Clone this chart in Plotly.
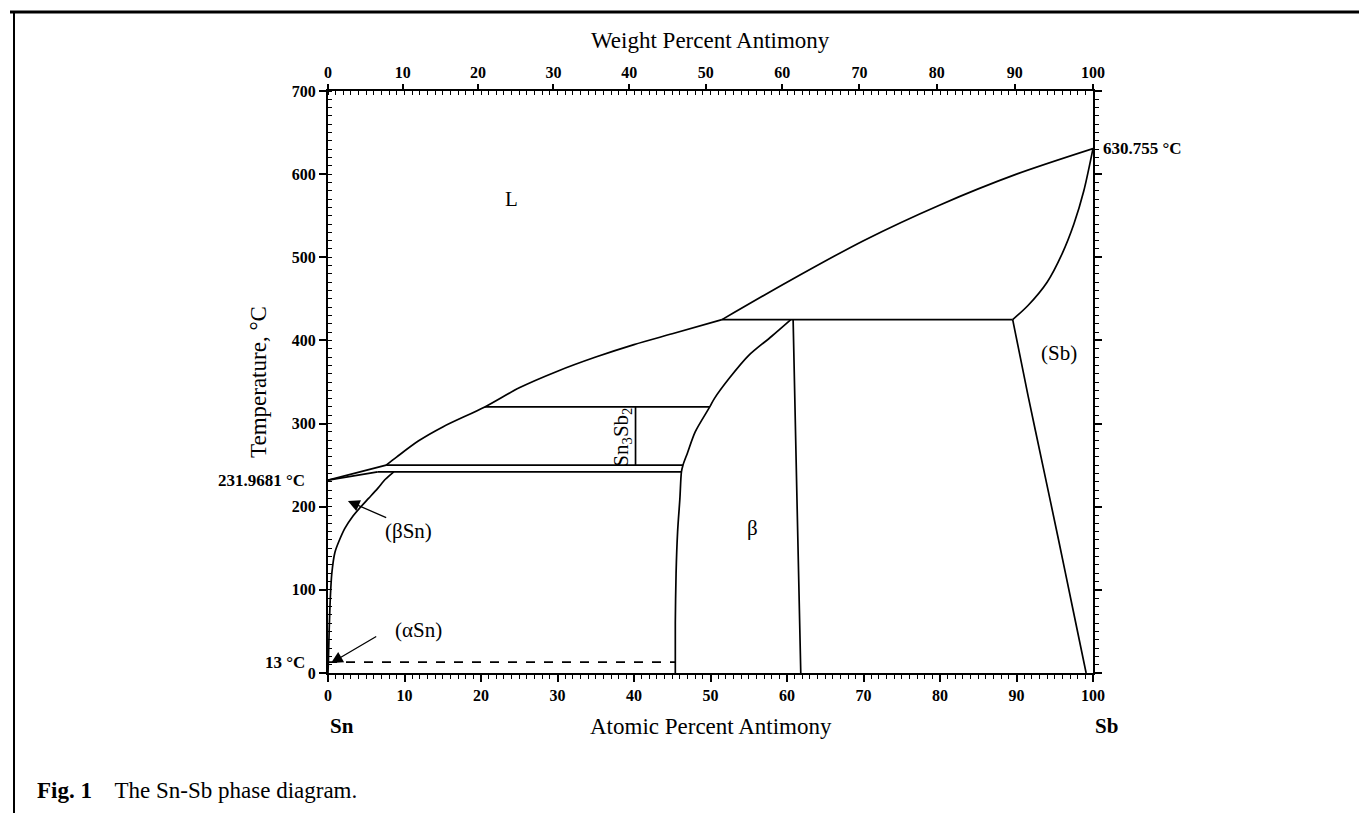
import plotly.graph_objects as go

# ---------------- data (atomic % Sb, temperature degC) ----------------
liq_sn_x = [0, 7.6]
liq_sn_y = [231.9681, 250]

liq_low_x = [7.6, 9, 11.8, 15, 20.5, 25, 30, 35, 40, 45, 51.5]
liq_low_y = [250, 260, 279, 296, 320, 343, 363, 380, 395, 408, 425]

liq_high_x = [51.5, 60, 70, 80, 90, 100]
liq_high_y = [425, 470, 520, 563, 600, 630.755]

sn_solidus_x = [0, 6.5]
sn_solidus_y = [231.9681, 242]

sn_solvus_x = [8.6, 7.5, 6.5, 5.3, 4.3, 3.2, 2.2, 1.5, 0.9, 0.5, 0.3, 0.15, 0.05, 0]
sn_solvus_y = [242, 233, 222, 210, 200, 188, 174, 160, 145, 120, 90, 50, 13, 0]

beta_left_x = [45.4, 45.4, 45.5, 45.7, 46.0, 46.2, 46.4, 47.0, 48.0, 49.9, 50.5, 52.5, 55, 58, 60.5]
beta_left_y = [0, 60, 120, 170, 210, 242, 250, 265, 290, 320, 330, 355, 382, 405, 425]

beta_right_x = [60.8, 61.3, 61.8]
beta_right_y = [425, 210, 0]

sb_solidus_x = [89.5, 91.5, 94, 96, 97.5, 98.8, 100]
sb_solidus_y = [425, 442, 470, 505, 540, 580, 630.755]

sb_solvus_x = [89.5, 91.5, 93.5, 95.5, 97.3, 99.1]
sb_solvus_y = [425, 334, 247, 160, 80, 0]

iso_425_x = [51.5, 89.5]
iso_320_x = [20.5, 49.9]
iso_250_x = [7.6, 46.4]
iso_242_x = [6.5, 46.2]
sn3sb2_x = [40.2, 40.2]
sn3sb2_y = [250, 320]
alpha_x = [0, 45.4]
alpha_y = [13, 13]

atomic_ticks = list(range(0, 101, 10))
weight_ticks = list(range(0, 101, 10))
temp_ticks = list(range(0, 701, 100))

M_SN, M_SB = 118.71, 121.76


def wt_to_at(w):
    a = w / M_SB
    b = (100 - w) / M_SN
    return 100 * a / (a + b)


weight_pos = [wt_to_at(w) for w in weight_ticks]

FONT = "Liberation Serif"
LW = 1.7

fig = go.Figure()


def line(x, y, dash="solid", smooth=False):
    ln = dict(color="black", width=LW, dash=dash)
    if smooth:
        ln.update(shape="spline", smoothing=0.8)
    fig.add_trace(go.Scatter(x=x, y=y, mode="lines", line=ln, hoverinfo="skip", showlegend=False))


line(liq_sn_x, liq_sn_y)
line(liq_low_x, liq_low_y, smooth=True)
line(liq_high_x, liq_high_y, smooth=True)
line(sn_solidus_x, sn_solidus_y)
line(sn_solvus_x, sn_solvus_y, smooth=True)
line(beta_left_x, beta_left_y, smooth=True)
line(beta_right_x, beta_right_y, smooth=True)
line(sb_solidus_x, sb_solidus_y, smooth=True)
line(sb_solvus_x, sb_solvus_y, smooth=True)
line(iso_425_x, [425, 425])
line(iso_320_x, [320, 320])
line(iso_250_x, [250, 250])
line(iso_242_x, [242, 242])
line(sn3sb2_x, sn3sb2_y)
line(alpha_x, alpha_y, dash="dash")

# dummy trace on the top/right axes
fig.add_trace(go.Scatter(x=[0, 100], y=[0, 700], xaxis="x2", yaxis="y2", mode="markers",
                         marker=dict(opacity=0), hoverinfo="skip", showlegend=False))

tickfont = dict(family=FONT, size=16, color="black")

fig.update_layout(
    width=1367, height=813,
    paper_bgcolor="white", plot_bgcolor="white",
    margin=dict(l=320, r=282, t=83, b=148),
    showlegend=False,
    xaxis=dict(range=[0, 100], tickvals=atomic_ticks, ticktext=[f"<b>{v}</b>" for v in atomic_ticks],
               showgrid=False, zeroline=False, showline=True, linecolor="black", linewidth=2,
               ticks="outside", ticklen=7, tickwidth=1.5, tickcolor="black", tickfont=tickfont,
               minor=dict(dtick=1, ticks="outside", ticklen=4, tickcolor="black", tickwidth=1),
               fixedrange=True),
    xaxis2=dict(range=[0, 100], overlaying="x", side="top", tickvals=weight_pos,
                ticktext=[f"<b>{v}</b>" for v in weight_ticks],
                showgrid=False, zeroline=False, showline=True, linecolor="black", linewidth=2,
                ticks="outside", ticklen=5, tickwidth=1.5, tickcolor="black", tickfont=tickfont,
                minor=dict(dtick=1, ticks="inside", ticklen=4, tickcolor="black", tickwidth=1)),
    yaxis=dict(range=[0, 700], tickvals=temp_ticks, ticktext=[f"<b>{v}</b>" for v in temp_ticks],
               showgrid=False, zeroline=False, showline=True, linecolor="black", linewidth=2,
               ticks="outside", ticklen=7, tickwidth=1.5, tickcolor="black", tickfont=tickfont,
               minor=dict(dtick=10, ticks="inside", ticklen=4, tickcolor="black", tickwidth=1)),
    yaxis2=dict(range=[0, 700], overlaying="y", side="right", tickvals=temp_ticks, showticklabels=False,
                showgrid=False, zeroline=False, showline=True, linecolor="black", linewidth=2,
                ticks="outside", ticklen=7, tickwidth=1.5, tickcolor="black",
                minor=dict(dtick=10, ticks="outside", ticklen=4, tickcolor="black", tickwidth=1)),
)

big = dict(family=FONT, size=23, color="black")
lab = dict(family=FONT, size=21, color="black")
small_b = dict(family=FONT, size=17, color="black")

ann = []
# axis titles
ann.append(dict(text="Weight Percent Antimony", x=0.5, y=1.0, xref="paper", yref="paper",
                yshift=51, showarrow=False, font=big, xanchor="center", yanchor="middle"))
ann.append(dict(text="Atomic Percent Antimony", x=0.5, y=0.0, xref="paper", yref="paper",
                yshift=-53, showarrow=False, font=big, xanchor="center", yanchor="middle"))
ann.append(dict(text="Temperature, °C", x=0.0, y=0.5, xref="paper", yref="paper",
                xshift=-70, showarrow=False, font=big, textangle=-90, xanchor="center", yanchor="middle"))
ann.append(dict(text="<b>Sn</b>", x=0, y=0, xref="x", yref="paper", yshift=-53, showarrow=False,
                font=dict(family=FONT, size=21, color="black"), xanchor="left", yanchor="middle"))
ann.append(dict(text="<b>Sb</b>", x=100, y=0, xref="x", yref="paper", yshift=-53, showarrow=False,
                font=dict(family=FONT, size=21, color="black"), xanchor="left", yanchor="middle"))
# special temperature labels
ann.append(dict(text="<b>231.9681 °C</b>", x=0, y=231.9681, xref="x", yref="y", xshift=-21,
                showarrow=False, font=small_b, xanchor="right", yanchor="middle"))
ann.append(dict(text="<b>13 °C</b>", x=0, y=13, xref="x", yref="y", xshift=-21,
                showarrow=False, font=small_b, xanchor="right", yanchor="middle"))
ann.append(dict(text="<b>630.755 °C</b>", x=100, y=630.755, xref="x", yref="y", xshift=8,
                showarrow=False, font=small_b, xanchor="left", yanchor="middle"))
# phase labels
ann.append(dict(text="L", x=24, y=570, xref="x", yref="y", showarrow=False, font=lab))
ann.append(dict(text="(βSn)", x=10.5, y=171, xref="x", yref="y", showarrow=False, font=lab))
ann.append(dict(text="(αSn)", x=11.8, y=52, xref="x", yref="y", showarrow=False, font=lab))
ann.append(dict(text="β", x=55.5, y=175, xref="x", yref="y", showarrow=False, font=lab))
ann.append(dict(text="(Sb)", x=95.5, y=385, xref="x", yref="y", showarrow=False, font=lab))
ann.append(dict(text="Sn<sub>3</sub>Sb<sub>2</sub>", x=38.4, y=284, xref="x", yref="y", showarrow=False,
                font=dict(family=FONT, size=21, color="black"), textangle=-90))
# arrows
ann.append(dict(text="", x=2.6, y=207, ax=7.8, ay=186, xref="x", yref="y", axref="x", ayref="y",
                showarrow=True, arrowhead=2, arrowsize=1.8, arrowwidth=1.3, arrowcolor="black"))
ann.append(dict(text="", x=0.4, y=12, ax=6.5, ay=45, xref="x", yref="y", axref="x", ayref="y",
                showarrow=True, arrowhead=2, arrowsize=1.8, arrowwidth=1.3, arrowcolor="black"))
# caption
ann.append(dict(text="<b>Fig. 1</b>    The Sn-Sb phase diagram.", x=(27 - 320) / 765, y=(665 - 782) / 582,
                xref="paper", yref="paper", showarrow=False, font=big, xanchor="left", yanchor="middle"))
fig.update_layout(annotations=ann)

# frame around the figure
px = lambda v: (v - 320) / 765
py = lambda v: (665 - v) / 582
shapes = [
    dict(type="line", xref="paper", yref="paper", x0=px(2), x1=px(1365), y0=py(4), y1=py(4),
         line=dict(color="black", width=3)),
    dict(type="line", xref="paper", yref="paper", x0=px(6), x1=px(6), y0=py(4), y1=py(809),
         line=dict(color="black", width=2)),
    dict(type="line", xref="paper", yref="paper", x0=px(1364), x1=px(1364), y0=py(4), y1=py(809),
         line=dict(color="black", width=1)),
    dict(type="line", xref="paper", yref="paper", x0=px(6), x1=px(360), y0=py(809), y1=py(809),
         line=dict(color="black", width=2)),
]
fig.update_layout(shapes=shapes)

fig.write_html("out.html")
